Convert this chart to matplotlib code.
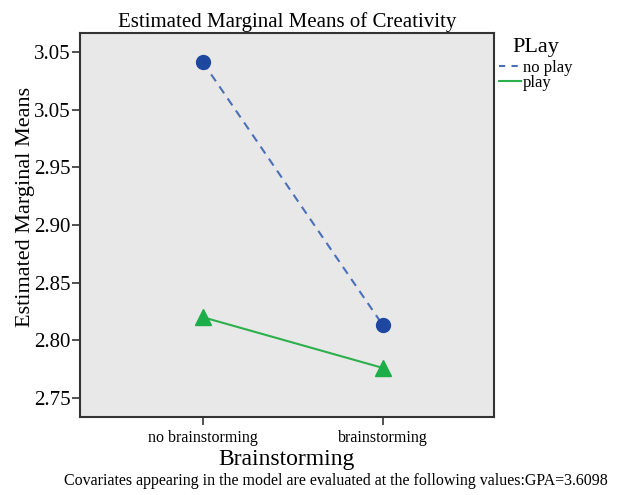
import matplotlib
matplotlib.use("Agg")
import matplotlib.pyplot as plt
from matplotlib.lines import Line2D

# data
categories = ["no brainstorming", "brainstorming"]
no_play = [3.041, 2.813]
play = [2.820, 2.776]
ytick_values = [3.05, 3.00, 2.95, 2.90, 2.85, 2.80, 2.75]
ytick_labels = ["3.05", "3.05", "2.95", "2.90", "2.85", "2.80", "2.75"]

plt.rcParams['font.family'] = ['Liberation Serif', 'DejaVu Serif']

fig = plt.figure(figsize=(6.22, 4.95), dpi=100)
ax = fig.add_axes([0.1286, 0.1576, 0.6656, 0.7758])
ax.set_facecolor('#E8E8E8')

x = list(range(len(categories)))
ax.plot(x, no_play, color='#4A70B8', linestyle=(0, (4, 3)), linewidth=1.5, zorder=2)
ax.plot(x, no_play, linestyle='none', marker='o', markersize=10, color='#1E48A0', zorder=3)
ax.plot(x, play, color='#2DB04B', linestyle='-', linewidth=1.5, zorder=2)
ax.plot(x, play, linestyle='none', marker='^', markersize=11.5, color='#1DAE4A', zorder=3)

ax.set_xlim(-0.683, 1.617)
ax.set_ylim(2.7335, 3.0665)
ax.set_xticks(x)
ax.set_xticklabels(categories, fontsize=11.5)
ax.set_yticks(ytick_values)
ax.set_yticklabels(ytick_labels, fontsize=15)
ax.tick_params(axis='both', direction='out', length=6, width=1.2, color='#333333')
ax.tick_params(axis='y', pad=1)

for s in ax.spines.values():
    s.set_color('#333333')
    s.set_linewidth(1.5)

ax.set_title('Estimated Marginal Means of Creativity', fontsize=15, pad=4)
ax.set_ylabel('Estimated Marginal Means', fontsize=16)
ax.yaxis.set_label_coords(-0.108, 0.547)
ax.set_xlabel('Brainstorming', fontsize=17, labelpad=2)

fig.text(0.540, 0.028, 'Covariates appearing in the model are evaluated at the following values:GPA=3.6098',
         ha='center', va='center', fontsize=11.5)

handles = [Line2D([], [], color='#4A70B8', linestyle=(0, (3, 3)), linewidth=1.5),
           Line2D([], [], color='#2DB04B', linestyle='-', linewidth=1.5)]
leg = fig.legend(handles, ['no play', 'play'], title='PLay', loc='upper left',
                 bbox_to_anchor=(0.783, 0.947), frameon=False, fontsize=12,
                 title_fontsize=16, handlelength=1.35, handletextpad=0.1,
                 labelspacing=-0.05, borderpad=0.2)
leg._legend_box.sep = 2

fig.savefig('out.png', dpi=100)
